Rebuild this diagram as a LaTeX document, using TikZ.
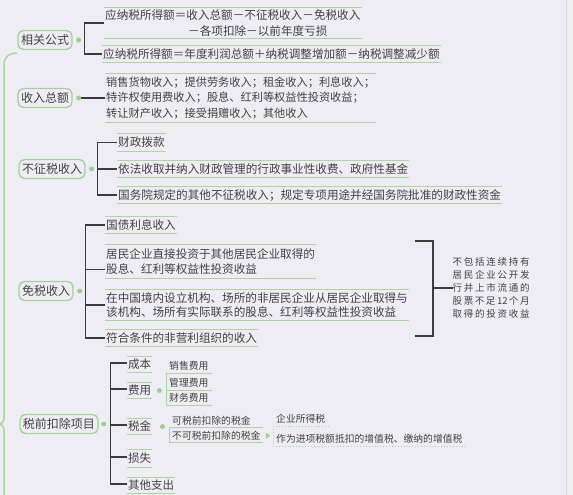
\documentclass[tikz,border=0pt]{standalone}
\usepackage{fontspec}
\setmainfont{Noto Sans CJK SC}
\definecolor{bg}{HTML}{EFEDF4}
\definecolor{strip}{HTML}{EFEFEF}
\definecolor{stripline}{HTML}{DDDBE2}
\definecolor{gl}{HTML}{AAD6A0}
\definecolor{boxg}{HTML}{A2D295}
\definecolor{dotg}{HTML}{9CCF90}
\definecolor{lk}{HTML}{3D3D3D}
\definecolor{txt}{HTML}{424242}
\begin{document}
\begin{tikzpicture}[x=1pt,y=-1pt,
  cat/.style={draw=boxg, line width=1.3pt, rounded corners=5.5pt, inner xsep=3pt, inner ysep=0pt,
    minimum height=19pt, text height=9.9pt, text depth=0.9pt, text=txt, font=\fontsize{12}{14}\selectfont},
  dot/.style={circle, fill=dotg, inner sep=0pt, minimum size=5pt},
  conn/.style={draw=lk, line width=1.1pt},
  gline/.style={draw=gl, line width=1pt},
  gdot/.style={draw=gl, line width=0.9pt, dotted},
  leaf/.style={anchor=west, inner xsep=1pt, inner ysep=0pt, text=txt},
  sl/.style={text height=9.6pt, text depth=0.8pt},
  ul/.style={anchor=south west, inner xsep=3pt, text=txt, text height=8.2pt, text depth=0.8pt,
    font=\fontsize{9.8}{12}\selectfont},
  note/.style={anchor=west, inner sep=0pt, align=left, text=txt, font=\fontsize{9.5}{12.9}\selectfont}
]
\useasboundingbox (0,0) rectangle (573,495);
\fill[bg] (0,0) rectangle (573,495);
\fill[strip] (567,0) rectangle (573,495);
\draw[stripline, line width=0.8pt] (566.6,0) -- (566.6,495);

% main brace
\draw[draw=gl, line width=1.5pt] (17,53) .. controls (9,53) and (4,57) .. (4,65) -- (4,419)
  .. controls (4,422) and (2,423) .. (0,424) .. controls (2,425) and (4,426) .. (4,429) -- (4,505);

% categories
\node[cat] (c1) at (45,40) {相关公式};
\node[cat] (c2) at (45,98) {收入总额};
\node[cat] (c3) at (52,169) {不征税收入};
\node[cat] (c4) at (46,291) {免税收入};
\node[cat] (c5) at (59,424) {税前扣除项目};
\node[dot] (d1) at ([xshift=6pt]c1.east) {};
\node[dot] (d2) at ([xshift=6pt]c2.east) {};
\node[dot] (d3) at ([xshift=6pt]c3.east) {};
\node[dot] (d4) at ([xshift=6pt]c4.east) {};
\node[dot] (d5) at ([xshift=5pt]c5.east) {};

% formulas
\node[leaf, font=\fontsize{11.6}{16}\selectfont, align=left, minimum height=31pt] (f1) at (104,23)
  {应纳税所得额＝收入总额－不征税收入－免税收入\\\hspace*{83pt}－各项扣除－以前年度亏损};
\node[leaf, sl, font=\fontsize{11.6}{14}\selectfont, minimum height=16pt] (f2) at (102,54)
  {应纳税所得额＝年度利润总额＋纳税调整增加额－纳税调整减少额};

% income
\node[leaf, font=\fontsize{11.2}{15.7}\selectfont, align=left, minimum height=48pt] (i1) at (105,98)
  {销售货物收入；提供劳务收入；租金收入；利息收入；\\特许权使用费收入；股息、红利等权益性投资收益；\\转让财产收入；接受捐赠收入；其他收入};

% non-taxable
\node[leaf, sl, font=\fontsize{11.6}{14}\selectfont, minimum height=17pt] (n1) at (117,142.5) {财政拨款};
\node[leaf, sl, font=\fontsize{11.6}{14}\selectfont, minimum height=16pt] (n2) at (117,169) {依法收取并纳入财政管理的行政事业性收费、政府性基金};
\node[leaf, sl, font=\fontsize{11.6}{14}\selectfont, minimum height=16pt] (n3) at (117,195) {国务院规定的其他不征税收入；规定专项用途并经国务院批准的财政性资金};

% exempt
\node[leaf, sl, font=\fontsize{11.6}{14}\selectfont, minimum height=16pt] (e1) at (105,225) {国债利息收入};
\node[leaf, font=\fontsize{11.6}{15}\selectfont, align=left, minimum height=33pt] (e2) at (105,261.5)
  {居民企业直接投资于其他居民企业取得的\\股息、红利等权益性投资收益};
\node[leaf, font=\fontsize{11.6}{13.5}\selectfont, align=left, minimum height=30pt] (e3) at (105,305)
  {在中国境内设立机构、场所的非居民企业从居民企业取得与\\该机构、场所有实际联系的股息、红利等权益性投资收益};
\node[leaf, sl, font=\fontsize{11.6}{14}\selectfont, minimum height=16pt] (e4) at (105,338) {符合条件的非营利组织的收入};

% deductions
\node[leaf, sl, font=\fontsize{11.5}{14}\selectfont, minimum height=16pt] (t1) at (127,364.5) {成本};
\node[leaf, sl, font=\fontsize{11.5}{14}\selectfont, minimum height=16pt] (t2) at (127,390.5) {费用};
\node[leaf, sl, font=\fontsize{11.5}{14}\selectfont, minimum height=16pt] (t3) at (127,426.5) {税金};
\node[leaf, sl, font=\fontsize{11.5}{14}\selectfont, minimum height=17pt] (t4) at (127,458.5) {损失};
\node[leaf, sl, font=\fontsize{11.5}{14}\selectfont, minimum height=16pt] (t5) at (127,485.5) {其他支出};
\node[dot] (d6) at ([xshift=7pt]t2.east) {};
\node[dot] (d7) at ([xshift=10pt]t3.east) {};

\node[ul, inner ysep=2.8pt] (u1) at (166,373) {销售费用};
\node[ul, inner ysep=2.5pt] (u2) at (166,390) {管理费用};
\node[ul, inner ysep=2.5pt] (u3) at (166,405) {财务费用};

\node[ul, inner ysep=2pt, text width=88pt] (w1) at (169,427) {可税前扣除的税金};
\node[ul, inner ysep=1.7pt, text width=88pt] (w2) at (169,442) {不可税前扣除的税金};

\node[ul, inner ysep=2.6pt] (x1) at (273,426) {企业所得税};
\node[ul, inner ysep=3pt] (x2) at (273,446) {作为进项税额抵扣的增值税、缴纳的增值税};

% green lines of leaves
\foreach \n in {f1,f2,i1,n1,n2,n3,e1,e2,e3,e4,t1,t2,t3,t4,t5}
  {\draw[gline] (\n.north west) -- (\n.north east) (\n.south west) -- (\n.south east);}
\foreach \n in {u1,u2,u3,w1,w2}
  {\draw[gline] (\n.south west) -- (\n.south east);}
\foreach \n in {x1,x2}
  {\draw[gdot] (\n.south west) -- (\n.south east);}
\draw[gline] (u1.south west) -- (u3.south west);
\draw[gline] (w1.south west) -- (w2.south west);
\draw[gdot] (x1.south west) -- (x2.south west);
\fill[dotg] ([xshift=2.5pt]w2.east) -- ++(0,-3) -- ++(4.5,3) -- ++(-4.5,3) -- cycle;

% connectors
\coordinate (s1) at ([xshift=6pt]d1.center);
\draw[conn] (s1) |- (f1.west);
\draw[conn] (s1) |- (f2.west);
\draw[conn] (d2.east) -- (i1.west);
\coordinate (s3) at ([xshift=6pt]d3.center);
\foreach \n in {n1,n2,n3} {\draw[conn] (s3) |- (\n.west);}
\coordinate (s4) at ([xshift=6pt]d4.center);
\draw[conn] (s4) |- (e1.west);
\draw[conn] (s4) |- ([yshift=-8pt]e2.west);
\draw[conn] (s4) |- (e3.west);
\draw[conn] (s4) |- (e4.west);
\coordinate (s5) at ([xshift=7pt]d5.center);
\foreach \n in {t1,t2,t3,t4,t5} {\draw[conn] (s5) |- ([yshift=1.5pt]\n.west);}

% right bracket and note
\node[note] (nt) at (452.5,288) {%
\makebox[77pt]{不\hfill 包\hfill 括\hfill 连\hfill 续\hfill 持\hfill 有}\\
\makebox[77pt]{居\hfill 民\hfill 企\hfill 业\hfill 公\hfill 开\hfill 发}\\
\makebox[77pt]{行\hfill 并\hfill 上\hfill 市\hfill 流\hfill 通\hfill 的}\\
\makebox[77pt]{股\hfill 票\hfill 不\hfill 足\hfill 12\hfill 个\hfill 月}\\
\makebox[77pt]{取\hfill 得\hfill 的\hfill 投\hfill 资\hfill 收\hfill 益}};
\coordinate (rt) at (433,241);
\coordinate (rb) at (433,336);
\draw[conn] ([xshift=-18pt]rt) -- (rt) -- (rb) -- ([xshift=-18pt]rb);
\draw[conn] (rt |- nt.west) -- (nt.west);
\end{tikzpicture}
\end{document}
